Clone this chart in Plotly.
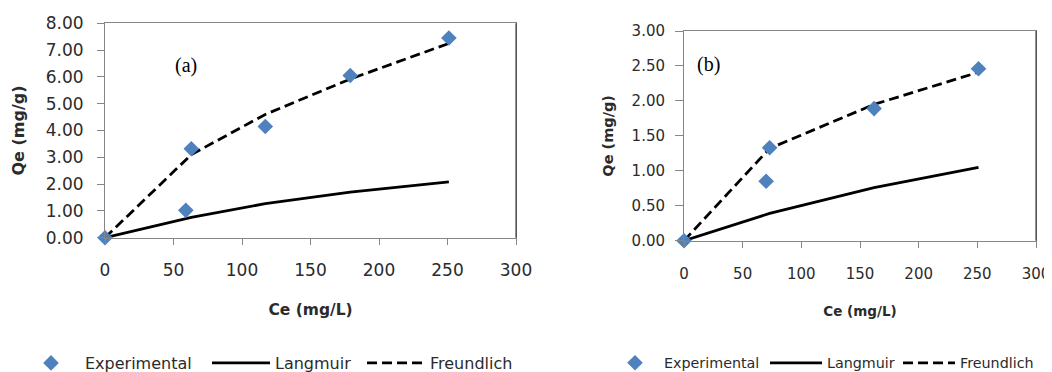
import plotly.graph_objects as go

# ---- data ----
ce_a = [0, 59, 63, 117, 179, 251]
qe_exp_a = [0.0, 1.02, 3.32, 4.15, 6.05, 7.45]
qe_lang_a = [0.0, 0.72, 0.76, 1.27, 1.70, 2.08]
qe_freu_a = [0.0, 2.92, 3.10, 4.60, 5.92, 7.25]

ce_b = [0, 70, 73, 162, 251]
qe_exp_b = [0.0, 0.85, 1.33, 1.89, 2.46]
qe_lang_b = [0.0, 0.38, 0.39, 0.76, 1.05]
qe_freu_b = [0.0, 1.28, 1.32, 1.95, 2.41]

series_names = ["Experimental", "Langmuir", "Freundlich"]
panel_labels = ["(a)", "(b)"]
x_title = "Ce (mg/L)"
y_title = "Qe (mg/g)"

W, H = 1052, 372
OFF = 8  # page body margin
BLUE = "#4F81BD"
AX = "#868686"
TXT = "#2b2b2b"
FONT = "DejaVu Sans"

fig = go.Figure()

def add_panel(xa, ya, ce, exp, lang, freu, leg_ids):
    fig.add_trace(go.Scatter(x=ce, y=lang, mode="lines", name=series_names[1],
                             line=dict(color="black", width=2.8),
                             xaxis=xa, yaxis=ya, legend=leg_ids[1], showlegend=True))
    fig.add_trace(go.Scatter(x=ce, y=freu, mode="lines", name=series_names[2],
                             line=dict(color="black", width=2.8, dash="10px,5px"),
                             xaxis=xa, yaxis=ya, legend=leg_ids[2], showlegend=True))
    fig.add_trace(go.Scatter(x=ce, y=exp, mode="markers", name=series_names[0],
                             marker=dict(symbol="diamond", size=12, color=BLUE),
                             cliponaxis=False,
                             xaxis=xa, yaxis=ya, legend=leg_ids[0], showlegend=True))

add_panel("x", "y", ce_a, qe_exp_a, qe_lang_a, qe_freu_a, ["legend", "legend2", "legend3"])
add_panel("x2", "y2", ce_b, qe_exp_b, qe_lang_b, qe_freu_b, ["legend4", "legend5", "legend6"])

def xaxis(domain, anchor, fsize, tsize, standoff, tstand):
    return dict(domain=domain, anchor=anchor, range=[0, 300], dtick=50,
                showgrid=False, zeroline=False, showline=True, linecolor=AX, linewidth=1,
                mirror=True, ticks="outside", ticklen=6, tickcolor=AX,
                ticklabelstandoff=tstand,
                tickfont=dict(family=FONT, size=fsize, color=TXT),
                title=dict(text="<b>" + x_title + "</b>", standoff=standoff,
                           font=dict(family=FONT, size=tsize, color=TXT)))

def yaxis(domain, anchor, rng, dtick, fsize, tsize, standoff, tstand, ticklen):
    return dict(domain=domain, anchor=anchor, range=rng, dtick=dtick, tickformat=".2f",
                showgrid=False, zeroline=False, showline=True, linecolor=AX, linewidth=1,
                mirror=True, ticks="outside", ticklen=ticklen, tickcolor=AX,
                ticklabelstandoff=tstand,
                tickfont=dict(family=FONT, size=fsize, color=TXT),
                title=dict(text="<b>" + y_title + "</b>", standoff=standoff,
                           font=dict(family=FONT, size=tsize, color=TXT)))

lx = lambda px: (px - OFF) / W
ly = lambda py: 1 - (py - OFF) / H

def leg(text_px, iw, fsize):
    # text begins at itemwidth + 10 px from the legend's left edge
    return dict(x=lx(text_px - iw - 10), xanchor="left", y=ly(363), yanchor="middle",
                orientation="h", bgcolor="rgba(0,0,0,0)", visible=True, itemwidth=iw,
                font=dict(family=FONT, size=fsize, color=TXT))

fig.update_layout(
    width=W, height=H, margin=dict(l=0, r=0, t=0, b=0, autoexpand=False),
    showlegend=True,
    paper_bgcolor="white", plot_bgcolor="white",
    xaxis=xaxis([lx(105), lx(516)], "y", 17, 15.5, 25, 11),
    yaxis=yaxis([ly(237.7), ly(23.3)], "x", [0, 8], 1, 17, 16, 17, 10, 7),
    xaxis2=xaxis([lx(684), lx(1036)], "y2", 15, 13.5, 24, 13),
    yaxis2=yaxis([ly(240.7), ly(31)], "x2", [0, 3], 0.5, 15, 14.5, 14, 7, 8),
    legend=leg(85, 58, 16), legend2=leg(275, 58, 16), legend3=leg(430, 58, 16),
    legend4=leg(664, 48, 14.3), legend5=leg(827, 52, 14.3), legend6=leg(960, 52, 14.3),
    annotations=[
        dict(text=panel_labels[0], xref="x domain", yref="y domain",
             x=(186 - 105) / 411, y=(237.7 - 65) / 214.4, showarrow=False,
             xanchor="center", yanchor="middle",
             font=dict(family="Liberation Serif", size=20, color="black")),
        dict(text=panel_labels[1], xref="x2 domain", yref="y2 domain",
             x=(708 - 684) / 352, y=(240.7 - 65) / 209.7, showarrow=False,
             xanchor="center", yanchor="middle",
             font=dict(family="Liberation Serif", size=20, color="black")),
    ],
    shapes=[
        dict(type="line", xref="x domain", yref="y domain", x0=1, x1=1, y0=0, y1=1,
             line=dict(color="#222222", width=1)),
        dict(type="line", xref="x2 domain", yref="y2 domain", x0=1, x1=1, y0=0, y1=1,
             line=dict(color="#222222", width=1)),
    ],
)

fig.write_html("out.html")
